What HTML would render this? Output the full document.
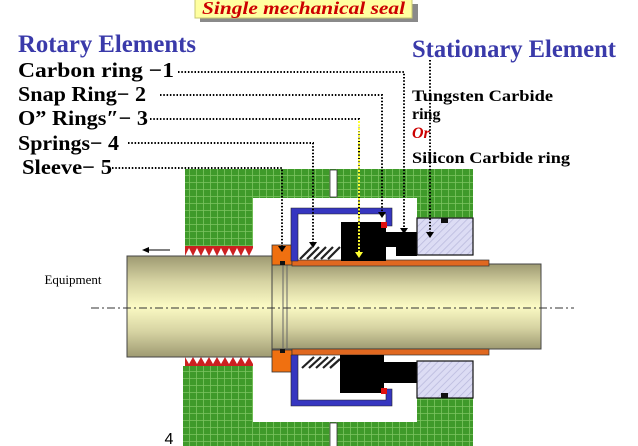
<!DOCTYPE html>
<html><head><meta charset="utf-8"><style>
html,body{margin:0;padding:0;background:#fff;}
svg{display:block;}
text{font-family:"Liberation Serif",serif;}
</style></head><body>
<svg width="638" height="446" viewBox="0 0 638 446" xmlns="http://www.w3.org/2000/svg">
<defs>
<pattern id="grid" width="7" height="7" patternUnits="userSpaceOnUse">
<rect width="7" height="7" fill="#3f9a2a"/>
<path d="M0 0.5H7M0.5 0V7" stroke="#7cc460" stroke-width="0.8"/>
</pattern>
<pattern id="hatch" width="5" height="5" patternUnits="userSpaceOnUse" patternTransform="rotate(45)">
<rect width="5" height="5" fill="#dcdcf4"/>
<line x1="0" y1="0" x2="0" y2="5" stroke="#b8b8dc" stroke-width="1.5"/>
</pattern>
<linearGradient id="shaft" x1="0" y1="0" x2="0" y2="1">
<stop offset="0" stop-color="#9e9a72"/>
<stop offset="0.25" stop-color="#d6d3a2"/>
<stop offset="0.5" stop-color="#fbfac4"/>
<stop offset="0.75" stop-color="#d6d3a2"/>
<stop offset="1" stop-color="#9e9a72"/>
</linearGradient>
</defs>

<rect x="200" y="4" width="218" height="18" fill="#8a8a8a"/>
<rect x="195" y="-2" width="217" height="20" fill="#ffffa0" stroke="#c8c870"/>
<text x="202" y="14" font-size="18" font-weight="bold" font-style="italic" fill="#cc0000" textLength="203" lengthAdjust="spacingAndGlyphs">Single mechanical seal</text>

<text x="18" y="52" font-size="25" font-weight="bold" fill="#3a3aaa" textLength="178" lengthAdjust="spacingAndGlyphs">Rotary Elements</text>
<text x="412" y="57" font-size="25" font-weight="bold" fill="#3a3aaa" textLength="204" lengthAdjust="spacingAndGlyphs">Stationary Element</text>

<g font-size="21" font-weight="bold" fill="#000">
<text x="18" y="77" textLength="156" lengthAdjust="spacingAndGlyphs">Carbon ring  −1</text>
<text x="18" y="101" textLength="128" lengthAdjust="spacingAndGlyphs">Snap Ring− 2</text>
<text x="18" y="125" textLength="130" lengthAdjust="spacingAndGlyphs">O” Rings″− 3</text>
<text x="18" y="150" textLength="101" lengthAdjust="spacingAndGlyphs">Springs− 4</text>
<text x="22" y="174" textLength="90" lengthAdjust="spacingAndGlyphs">Sleeve− 5</text>
</g>
<g font-size="16" font-weight="bold">
<text x="412" y="101" textLength="141" lengthAdjust="spacingAndGlyphs">Tungsten Carbide</text>
<text x="412" y="119">ring</text>
<text x="412" y="138" fill="#cc0000" font-style="italic">Or</text>
<text x="412" y="163" textLength="158" lengthAdjust="spacingAndGlyphs">Silicon Carbide ring</text>
</g>

<path d="M185 169H473V218H417V198H253V246H185Z" fill="url(#grid)"/>
<path d="M183 366H253V422H417V398H473V446H183Z" fill="url(#grid)"/>
<rect x="330" y="170" width="7" height="27" fill="#fff" stroke="#333" stroke-width="0.8"/>
<rect x="330" y="423" width="7" height="24" fill="#fff" stroke="#333" stroke-width="0.8"/>

<g fill="#cc2020">
<path d="M185 246 L253 246 L253 248 L249 256 L245 248 L241 256 L237 248 L233 256 L229 248 L225 256 L221 248 L217 256 L213 248 L209 256 L205 248 L201 256 L197 248 L193 256 L189 248 L185 256Z"/>
<path d="M185 366 L253 366 L253 364 L249 357 L245 364 L241 357 L237 364 L233 357 L229 364 L225 357 L221 364 L217 357 L213 364 L209 357 L205 364 L201 357 L197 364 L193 357 L189 364 L185 357Z"/>
</g>

<rect x="127" y="256" width="145" height="101" fill="url(#shaft)" stroke="#444" stroke-width="1"/>
<rect x="272" y="264" width="269" height="85" fill="url(#shaft)" stroke="#444" stroke-width="1"/>
<line x1="283" y1="264" x2="283" y2="349" stroke="#666" stroke-width="1"/>
<line x1="287" y1="264" x2="287" y2="349" stroke="#666" stroke-width="1"/>

<rect x="272" y="245" width="20" height="20" fill="#f07010" stroke="#333" stroke-width="0.8"/>
<rect x="272" y="350" width="20" height="22" fill="#f07010" stroke="#333" stroke-width="0.8"/>
<rect x="292" y="260" width="197" height="6" fill="#e06820" stroke="#333" stroke-width="0.7"/>
<rect x="292" y="349" width="197" height="6" fill="#e06820" stroke="#333" stroke-width="0.7"/>
<rect x="280" y="261" width="5" height="4" fill="#111"/>
<rect x="280" y="349" width="5" height="4" fill="#111"/>

<path d="M291 208H392V226H386V214H298V261H291Z" fill="#3636c0" stroke="#222" stroke-width="0.6"/>
<path d="M291 355H298V400H386V389H392V406H291Z" fill="#3636c0" stroke="#222" stroke-width="0.6"/>

<g stroke="#222" stroke-width="2.2">
<line x1="300" y1="259" x2="312" y2="247"/><line x1="307" y1="259" x2="319" y2="247"/><line x1="314" y1="259" x2="326" y2="247"/><line x1="321" y1="259" x2="333" y2="247"/><line x1="328" y1="259" x2="340" y2="247"/>
<line x1="302" y1="368" x2="314" y2="357"/><line x1="309" y1="368" x2="321" y2="357"/><line x1="316" y1="368" x2="328" y2="357"/><line x1="323" y1="368" x2="335" y2="357"/><line x1="330" y1="368" x2="340" y2="359"/>
</g>

<path d="M341 222H386V232H417V256H396V247H386V261H341Z" fill="#000"/>
<path d="M340 355H384V362H417V383H384V393H340Z" fill="#000"/>
<rect x="381" y="222" width="6" height="6" fill="#e01010"/>
<rect x="381" y="388" width="6" height="6" fill="#e01010"/>

<rect x="417" y="218" width="56" height="37" fill="url(#hatch)" stroke="#111" stroke-width="1.2"/>
<rect x="417" y="361" width="56" height="37" fill="url(#hatch)" stroke="#111" stroke-width="1.2"/>
<rect x="441" y="218" width="7" height="5" fill="#111"/>
<rect x="441" y="393" width="7" height="5" fill="#111"/>

<line x1="91" y1="308" x2="574" y2="308" stroke="#333" stroke-width="1" stroke-dasharray="8,3,2,3"/>

<g fill="none" stroke="#000" stroke-width="2" stroke-dasharray="1.5,1.8">
<path d="M178 72H404V228"/>
<path d="M160 95H382V214"/>
<path d="M128 143H313V242"/>
<path d="M112 168H282V246"/>
<path d="M430 60V232"/>
</g>
<path d="M150 119H359V252" fill="none" stroke="#000" stroke-width="2" stroke-dasharray="1.5,1.8"/>
<line x1="359" y1="121" x2="359" y2="252" stroke="#ffff30" stroke-width="2" stroke-dasharray="2,1.5"/>
<g fill="#000">
<path d="M400 228H408L404 234Z"/>
<path d="M378 212H386L382 218Z"/>
<path d="M309 242H317L313 248Z"/>
<path d="M278 246H286L282 252Z"/>
<path d="M426 232H434L430 238Z"/>
</g>
<path d="M355 252H363L359 258Z" fill="#ffff30"/>

<line x1="145" y1="250" x2="170" y2="250" stroke="#000" stroke-width="1"/>
<path d="M142 250L149 247V253Z" fill="#000"/>

<text x="73" y="284" font-size="13" text-anchor="middle">Equipment</text>
<text x="169" y="444" font-size="16" text-anchor="middle" style="font-family:'Liberation Sans',sans-serif">4</text>
</svg>
</body></html>
